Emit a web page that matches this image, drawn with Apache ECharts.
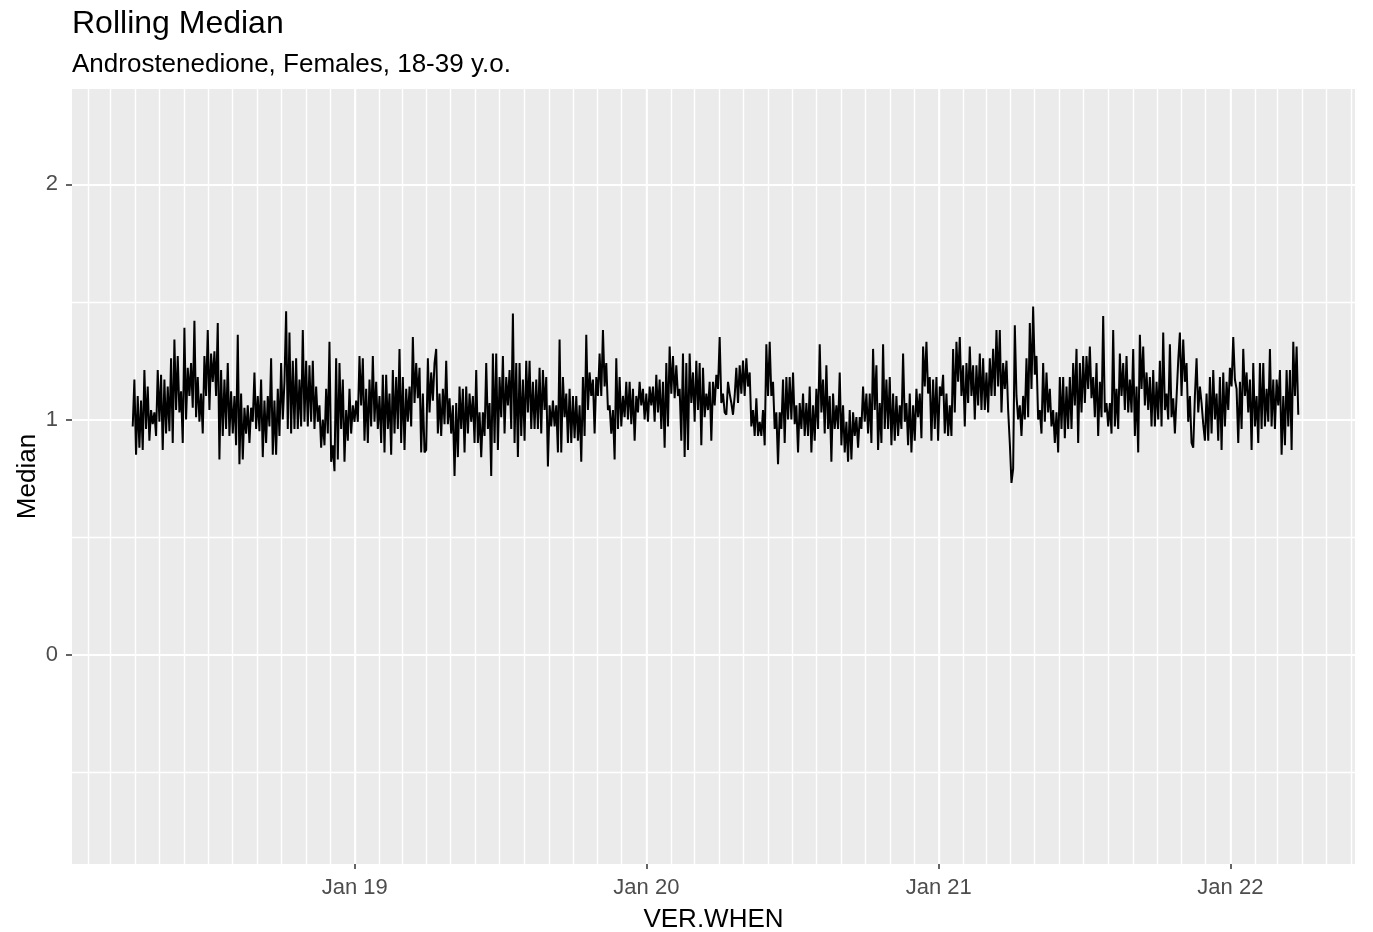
<!DOCTYPE html>
<html><head><meta charset="utf-8">
<script src="https://cdn.jsdelivr.net/npm/echarts@6/dist/echarts.min.js"></script>
<style>html,body{margin:0;padding:0;background:#fff}#chart{width:1373px;height:932px}</style>
</head><body><div id="chart"></div>
<script>
const titleText = 'Rolling Median';
const subtitleText = 'Androstenedione, Females, 18-39 y.o.';
const xAxisTitle = 'VER.WHEN';
const yAxisTitle = 'Median';
const firstDay = '2018-03-29';
const lastDay = '2022-03-27';
const xMin = '2018-01-12';
const xMax = '2022-06-06';
const yMin = -0.89;
const yMax = 2.405;
const xTickDates = ['2019-01-01', '2020-01-01', '2021-01-01', '2022-01-01'];
const xTickLabels = ['Jan 19', 'Jan 20', 'Jan 21', 'Jan 22'];
const yMajorTicks = [0, 1, 2];
const yMinorTicks = [-0.5, 0.5, 1.5];

// rolling median values, in time order
const medianA = [0.97,1.17,0.85,1.10,0.88,1.08,0.87,1.21,0.96,1.14,0.91,1.04,0.98,1.03,0.93,1.21,0.99,1.19,0.87,1.17,0.94,1.14,0.95,1.26,0.90,1.34,1.04,1.27,1.03,1.12,0.90,1.39,1.00,1.22,1.10,1.24,1.05,1.42,1.01,1.18,0.99,1.11,0.94,1.27,1.10,1.38,1.04,1.28,1.16,1.29,1.10,1.41,0.83,1.21,0.93,1.17,0.96,1.24,0.93,1.12,0.94,1.10,0.89,1.36,0.81,1.11,0.83,1.05,0.94,1.06,0.90,1.05,0.99,1.20,0.96,1.10,0.95,1.17,0.84,1.08,0.90,1.10,0.97,1.26,0.85,1.08];
const medianB = [0.85,1.13,0.93,1.24,1.00,1.16,1.46,0.96,1.37,0.94,1.25,0.96,1.26,0.96,1.17,0.97,1.38,0.99,1.25,0.97,1.23,0.99,1.25,0.96,1.14,0.99,1.06,0.88,1.00,0.89,1.13,0.94,1.33,0.82,0.89,0.78,1.26,0.83,1.24,0.96,1.17,0.82,1.04,0.91,1.13,0.94,1.06,0.99,1.08,0.99,1.27,1.06,1.26,0.91,1.13,0.90,1.17,0.97,1.27,0.99,1.16,0.96,1.10,0.90,1.19,0.86,1.19,0.96,1.11,0.85,1.21,0.94,1.18,0.96,1.30,0.90,1.18,0.87,1.13,0.99,1.14,0.97,1.35,1.07,1.24,1.09,1.22,0.86,1.11,0.86];
const medianC = [0.87,1.26,1.03,1.20,1.08,1.24,1.30,0.94,1.11,0.93,1.13,0.98,1.25,0.98,1.09,0.94,1.06,0.76,1.07,0.84,1.14,0.96,1.13,0.86,1.14,0.94,1.11,0.99,1.10,0.90,1.21,0.90,1.03,0.84,1.03,0.93,1.24,0.96,1.07,0.76,1.28,0.90,1.28,0.87,1.18,1.01,1.27,0.94,1.18,1.06,1.21,0.96,1.45,0.90,1.24,0.84,1.24,0.93,1.17,0.91,1.25,1.03,1.25,0.96,1.16,0.96,1.17,0.96,1.22,0.94,1.21,1.04,1.18,0.80,1.06,0.97,1.08,0.97,1.06,0.86,1.34,0.86,1.18,1.01,1.11,0.90,1.13,0.90,1.10,0.92];
const medianD = [1.10,0.91,1.06,0.82,1.18,0.93,1.36,1.04,1.20,1.10,1.17,0.94,1.18,1.10,1.28,1.10,1.38,1.14,1.24,1.04,1.06,0.94,1.04,0.83,1.26,0.96,1.18,0.97,1.10,1.01,1.16,1.00,1.16,0.98,1.13,0.91,1.10,1.03,1.16,1.06,1.13,1.00,1.11,0.99,1.14,1.06,1.14,0.99,1.19,1.03,1.17,0.96,1.16,0.88,1.24,0.97,1.31,1.11,1.27,1.09,1.23,1.10,1.13,0.91,1.28,0.84,1.24,0.87,1.28,1.07,1.20,0.99,1.25,1.04,1.24,0.89,1.22,1.01,1.11,1.04,1.16,0.91,1.16,1.06,1.19,1.13,1.35,1.07,1.11,1.03];
const medianE = [1.02,1.16,1.11,1.07,1.02,1.10,1.22,1.07,1.23,1.11,1.25,1.10,1.26,1.14,1.20,0.97,1.04,0.93,1.09,0.93,0.99,0.93,1.04,0.89,1.32,1.10,1.33,1.10,1.16,0.96,1.03,0.81,1.03,0.96,1.17,0.90,1.18,1.00,1.18,1.00,1.20,0.98,1.06,0.86,1.07,0.96,1.11,0.93,1.07,0.93,1.14,0.86,1.06,0.91,1.13,0.96,1.32,1.03,1.17,0.94,1.23,0.96,1.10,0.82,1.11,0.96,1.06,0.96,1.20,0.89,1.06,0.86,0.99,0.82,1.04,0.83,1.03,0.93,1.01,0.88,1.01,0.96,1.14,0.99,1.11,0.94,1.11,0.90,1.30,1.04];
const medianF = [1.23,0.87,1.07,0.90,1.32,0.96,1.17,0.96,1.18,0.89,1.11,0.91,1.10,0.93,1.06,0.96,1.28,0.99,1.07,0.89,1.11,0.86,1.06,0.91,1.13,1.01,1.11,0.92,1.31,1.14,1.33,1.11,1.18,0.91,1.17,0.96,1.18,0.91,1.14,1.10,1.19,0.94,1.11,0.93,1.06,0.93,1.30,1.03,1.33,1.16,1.35,1.10,1.23,0.97,1.24,1.07,1.31,1.10,1.23,1.00,1.23,1.06,1.28,1.04,1.26,1.04,1.20,1.03,1.26,1.10,1.30,1.10,1.38,1.14,1.38,1.03,1.24,1.13,1.25,1.04,0.90,0.73,0.79,1.40,1.10,1.00,1.06,0.93,1.10,1.00];
const medianG = [1.26,1.01,1.41,1.13,1.48,1.19,1.27,1.00,1.04,0.94,1.24,0.99,1.20,1.03,1.13,0.97,1.04,0.90,1.03,0.86,1.18,0.96,1.18,0.92,1.14,0.96,1.18,0.96,1.24,1.06,1.30,0.90,1.24,1.03,1.27,1.07,1.27,1.13,1.31,1.09,1.18,1.01,1.24,0.93,1.16,1.01,1.44,1.03,1.07,0.97,1.07,0.94,1.38,0.97,1.13,0.96,1.28,1.10,1.24,1.04,1.27,1.03,1.17,1.03,1.30,0.93,1.14,0.86,1.36,1.13,1.31,1.06,1.20,1.04,1.18,0.97,1.21,0.97,1.16,1.00,1.25,0.97,1.37,1.04,1.11,1.00,1.32,1.01,1.09,0.94];
const medianH = [0.94,1.25,1.37,1.10,1.34,1.16,1.24,0.99,1.10,0.90,0.88,1.10,1.26,1.03,1.14,1.07,0.98,0.91,1.11,0.91,1.18,0.94,1.21,1.00,1.11,0.91,1.18,0.87,1.20,0.97,1.16,1.04,1.22,1.14,1.35,1.17,1.13,0.90,1.16,0.96,1.30,1.10,1.20,1.03,1.17,0.87,1.24,0.97,1.10,0.90,1.24,0.96,1.24,0.97,1.13,0.99,1.30,0.97,1.17,0.96,1.17,1.06,1.21,0.85,1.10,0.89,1.21,0.97,1.21,0.87,1.33,1.10,1.31,1.02];

const ts = s => Date.parse(s + 'T00:00:00Z');
const values = [].concat(medianA, medianB, medianC, medianD, medianE, medianF, medianG, medianH);
const t0 = ts(firstDay), t1 = ts(lastDay);
const stepMs = (t1 - t0) / (values.length - 1);
const seriesData = values.map((v, i) => [t0 + i * stepMs, v]);

const xMinTs = ts(xMin), xMaxTs = ts(xMax);
const xMajorTs = xTickDates.map(ts);
const monthTs = [];
for (let y = 2018; y <= 2022; y++) {
  for (let m = 0; m < 12; m++) {
    const t = Date.UTC(y, m, 1);
    if (t > xMinTs && t < xMaxTs) monthTs.push(t);
  }
}

const FONT = '"Liberation Sans", Arial, Helvetica, sans-serif';
const chart = echarts.init(document.getElementById('chart'), null, { renderer: 'canvas' });
chart.setOption({
  animation: false,
  backgroundColor: '#ffffff',
  title: [
    { text: titleText, left: 72, top: 8, padding: 0,
      textStyle: { fontFamily: FONT, fontSize: 32, fontWeight: 'normal', color: '#000000' } },
    { text: subtitleText, left: 72, top: 52, padding: 0,
      textStyle: { fontFamily: FONT, fontSize: 26, fontWeight: 'normal', color: '#000000' } }
  ],
  grid: { left: 72, right: 18, top: 89, bottom: 68, show: true, backgroundColor: '#EBEBEB', borderWidth: 0,
    containLabel: false, outerBoundsMode: 'none' },
  xAxis: [
    {
      type: 'value', min: xMinTs, max: xMaxTs, position: 'bottom',
      name: xAxisTitle, nameLocation: 'middle', nameGap: 43, nameMoveOverlap: false,
      nameTextStyle: { fontFamily: FONT, fontSize: 26, color: '#000000' },
      axisLine: { show: false, onZero: false },
      axisTick: { show: true, length: 5, lineStyle: { color: '#333333', width: 1.5 }, customValues: xMajorTs },
      axisLabel: { show: true, margin: 13, fontFamily: FONT, fontSize: 22, color: '#4D4D4D', customValues: xMajorTs,
        formatter: v => { const i = xMajorTs.indexOf(v); return i >= 0 ? xTickLabels[i] : ''; } },
      splitLine: { show: true, lineStyle: { color: '#FFFFFF', width: 1.8 } }
    },
    {
      type: 'value', min: xMinTs, max: xMaxTs, position: 'bottom',
      axisLine: { show: false, onZero: false },
      axisTick: { show: false, customValues: monthTs },
      axisLabel: { show: false, customValues: monthTs },
      splitLine: { show: true, lineStyle: { color: '#FFFFFF', width: 1.4 } }
    }
  ],
  yAxis: [
    {
      type: 'value', min: yMin, max: yMax, position: 'left',
      name: yAxisTitle, nameLocation: 'middle', nameGap: 31, nameRotate: 90, nameMoveOverlap: false,
      nameTextStyle: { fontFamily: FONT, fontSize: 26, color: '#000000' },
      axisLine: { show: false, onZero: false },
      axisTick: { show: true, length: 6, lineStyle: { color: '#333333', width: 1.5 }, customValues: yMajorTicks },
      axisLabel: { show: true, margin: 14, fontFamily: FONT, fontSize: 22, color: '#4D4D4D', customValues: yMajorTicks,
        formatter: v => String(v) },
      splitLine: { show: true, lineStyle: { color: '#FFFFFF', width: 1.8 } }
    },
    {
      type: 'value', min: yMin, max: yMax, position: 'left',
      axisLine: { show: false, onZero: false },
      axisTick: { show: false, customValues: yMinorTicks },
      axisLabel: { show: false, customValues: yMinorTicks },
      splitLine: { show: true, lineStyle: { color: '#FFFFFF', width: 1.4 } }
    }
  ],
  series: [{
    type: 'line', xAxisIndex: 0, yAxisIndex: 0,
    data: seriesData, showSymbol: false, symbol: 'none', sampling: null,
    lineStyle: { color: '#000000', width: 2.0 },
    z: 3
  }]
});
</script></body></html>
